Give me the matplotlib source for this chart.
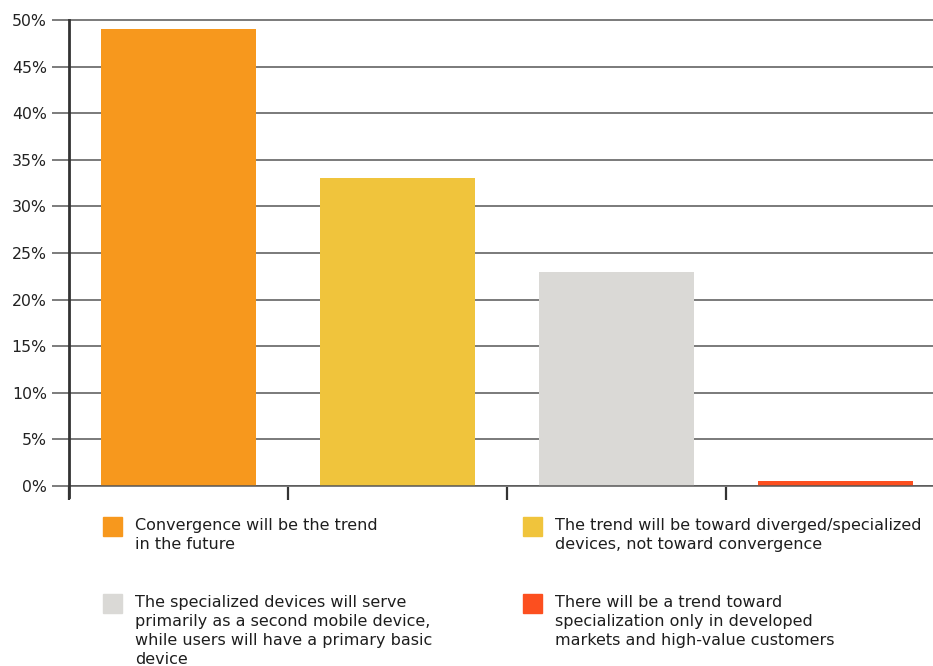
import numpy as np
import matplotlib.pyplot as plt
from matplotlib.patches import Rectangle

# Survey answers (share of respondents)
answers = [
    "Convergence will be the trend\nin the future",
    "The trend will be toward diverged/specialized\ndevices, not toward convergence",
    "The specialized devices will serve\nprimarily as a second mobile device,\nwhile users will have a primary basic\ndevice",
    "There will be a trend toward\nspecialization only in developed\nmarkets and high-value customers",
]
shares = [49, 33, 23, 0.5]
colours = ["#F7981D", "#F0C43C", "#DAD9D6", "#FC4F1F"]

y_ticks = np.arange(0, 55, 5)

W, H = 933, 666
fig = plt.figure(figsize=(W / 100, H / 100), dpi=100)
plt.rcParams['font.family'] = ['DejaVu Sans']

# plot area in pixel terms
left, right, top, bottom = 69, 933, 20, 486
ax = fig.add_axes([left / W, 1 - bottom / H, (right - left) / W, (bottom - top) / H])

x = np.arange(len(shares))
ax.bar(x, shares, width=0.71, color=colours, zorder=3)

ax.set_xlim(-0.5, -0.5 + (right - left) / 219)
ax.set_ylim(0, 50)

ax.set_yticks(y_ticks)
ax.set_yticklabels([f"{v}%" for v in y_ticks], fontsize=11.3, color="#222222")
ax.yaxis.grid(True, color="#7a7a7a", linewidth=1.4, zorder=1)
for gl in ax.get_ygridlines():
    gl.set_clip_on(False)
ax.axhline(0, color="#555555", linewidth=1.8, zorder=4)

ax.set_xticks(np.arange(-0.5, len(shares) - 0.5, 1))
ax.set_xticklabels([])
ax.tick_params(axis="x", length=10, width=1.6, color="#333333", direction="out")
ax.tick_params(axis="y", length=12, width=1.2, color="#666666", pad=4)

for s in ["top", "right", "bottom"]:
    ax.spines[s].set_visible(False)
ax.spines["left"].set_color("#333333")
ax.spines["left"].set_linewidth(2)
ax.spines["left"].set_bounds(-1.2, 50)
ax.spines["left"].set_zorder(5)

# legend laid out in two columns below the plot
slots = [(103, 517), (523, 517), (103, 594), (523, 594)]
for (px, py), label, col in zip(slots, answers, colours):
    fig.patches.append(Rectangle((px / W, 1 - (py + 19) / H), 19 / W, 19 / H,
                                 transform=fig.transFigure, color=col))
    fig.text((px + 32) / W, 1 - (py + 1) / H, label, fontsize=11.5,
             color="#1e1e1e", va="top", ha="left", linespacing=1.34)

fig.savefig("out.png", dpi=100)
